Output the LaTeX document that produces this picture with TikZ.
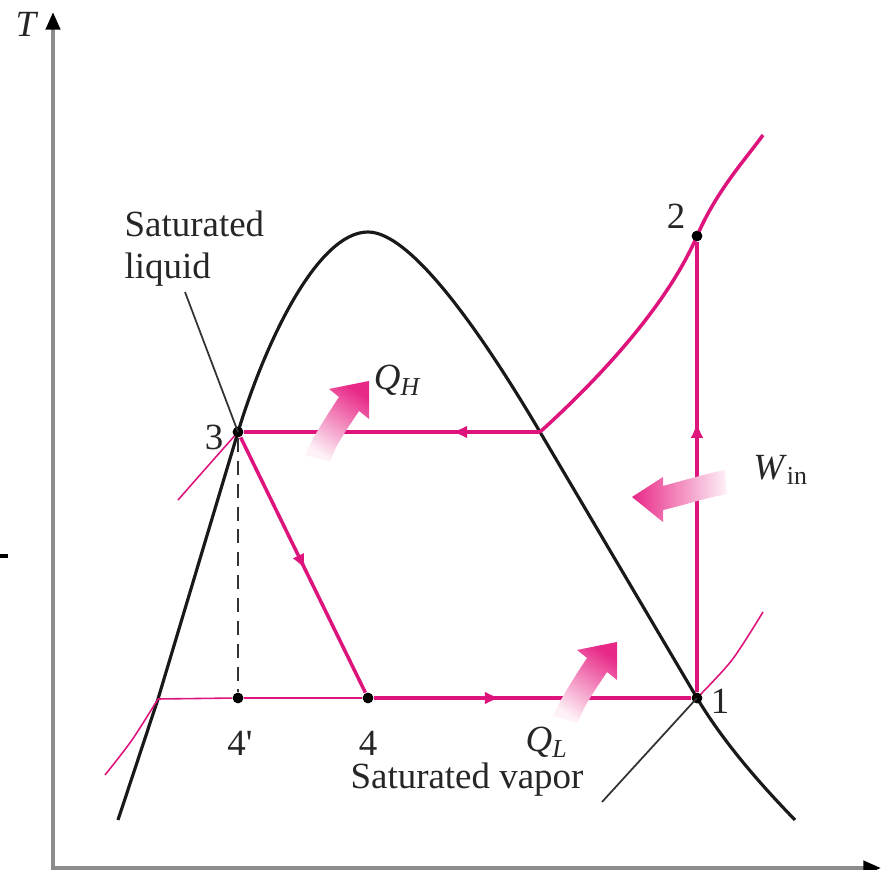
\documentclass[tikz,border=0pt]{standalone}
\usepackage{fontspec}
\setmainfont{Liberation Serif}
\usetikzlibrary{arrows.meta,decorations.markings}
\definecolor{cyclepink}{RGB}{222,20,125}
\definecolor{heatpink}{RGB}{232,40,135}
\definecolor{axisgray}{RGB}{140,140,140}

\tikzset{
  dot/.style={circle, fill=black, inner sep=0pt, minimum size=3pt},
  dome/.style={line width=0.9pt, black!90},
  cycleline/.style={line width=1pt, cyclepink},
  thinpink/.style={line width=0.45pt, cyclepink},
  pointer/.style={line width=0.5pt, black!80},
  axisline/.style={line width=1.1pt, axisgray,
    {Triangle[length=5pt,width=4pt,color=black]}-{Triangle[length=5pt,width=4pt,color=black]}},
  midarrow/.style={postaction={decorate}, decoration={markings,
    mark=at position #1 with {\arrow{Latex[length=4.5pt,width=3.6pt]}}}},
  heatarrow/.pic={
    \shade[top color=heatpink, bottom color=heatpink!6, shading angle=-33]
      (0,0) -- (0,38) -- (-10,30) .. controls (-19,44) and (-34,64) .. (-39,81)
      -- (-64,74) .. controls (-57,57) and (-38,28) .. (-30,16) -- (-40,8) -- cycle;
  },
  workarrow/.pic={
    \shade[left color=heatpink, right color=heatpink!6]
      (0,0) -- (31,-20) -- (31,-11) .. controls (53,-17) and (73,-23) .. (93,-27)
      -- (95,-3) .. controls (73,1) and (53,8) .. (31,13) -- (31,25) -- cycle;
  }
}

\begin{document}
\begin{tikzpicture}[x=0.01cm, y=-0.01cm, font=\fontsize{10.5}{12}\selectfont, text=black!85]
\useasboundingbox (0,0) rectangle (881,870);
% state points
\node[dot] (p1) at (697,698) {};
\node[dot] (p2) at (697,236) {};
\node[dot] (p3) at (238,432) {};
\node[dot] (p4) at (368,698) {};
\node[dot] (p4p) at (238,698) {};
\coordinate (sv) at (540,432);
\coordinate (lowsat) at (158,699);
\coordinate (top) at (368,232);
\coordinate (origin) at (53,868);
\coordinate (tmax) at (53,12);
\coordinate (smax) at (881,868);

% axes
\draw[axisline] (tmax) -- (origin) -- (smax);
\node at (27,24) {\textit{T}};
\draw[line width=1pt] (0,556) -- (8,556);

% saturation dome
\draw[dome] (118,820) -- (lowsat) -- (p3.center)
  .. controls (266,340) and (318,232) .. (top)
  .. controls (412,232) and (484,337) .. (sv)
  .. controls (592,520) and (645,610) .. (p1.center)
  .. controls (727,748) and (768,792) .. (795,820);

% thin isobars
\draw[thinpink] plot[smooth] coordinates {(105,775) (132,740) (lowsat)};
\draw[thinpink] (lowsat) -- (p4p) -- (p4);
\draw[thinpink] plot[smooth] coordinates {(178,500) (207,467) (p3.center)};
\draw[thinpink] plot[smooth] coordinates {(p1.center) (732,660) (763,612)};
\draw[black!80, line width=0.6pt, dash pattern=on 4pt off 2.5pt] (p3) -- (p4p);

% cycle
\draw[cycleline, midarrow=0.6] (p1) -- (p2);
\draw[cycleline] (sv) .. controls (592,385) and (665,310) .. (p2.center)
  .. controls (717,190) and (745,160) .. (763,135);
\draw[cycleline, midarrow=0.3] (sv) -- (p3);
\draw[cycleline, midarrow=0.52] (p3) -- (p4);
\draw[cycleline, midarrow=0.4] (p4) -- (p1);
\foreach \p in {p1,p2,p3,p4,p4p} \fill (\p) circle (1.5pt);

% heat and work
\pic at (369,381) {heatarrow};
\pic at (617,642) {heatarrow};
\pic at (632,497) {workarrow};
\node (qh) at (398,380) {\textit{Q}\textsubscript{\textit{H}}};
\node (ql) at (547,742) {\textit{Q}\textsubscript{\textit{L}}};
\node (win) at (781,470) {\textit{W}\textsubscript{in}};

% labels
\node (l1) at (720,701) {1};
\node (l2) at (676,216) {2};
\node (l3) at (214,437) {3};
\node (l4) at (368,743) {4};
\node (l4p) at (240,743) {4\textquotesingle};
\node[anchor=north west, align=left, inner sep=0pt] (satliq) at (124,210) {Saturated\\liquid};
\coordinate (liqend) at (185,292);
\draw[pointer] (liqend) -- (p3.center);
\node (satvap) at (467,780) {Saturated vapor};
\coordinate (vapend) at (602,802);
\draw[pointer] (vapend) -- (p1.center);
\end{tikzpicture}
\end{document}
